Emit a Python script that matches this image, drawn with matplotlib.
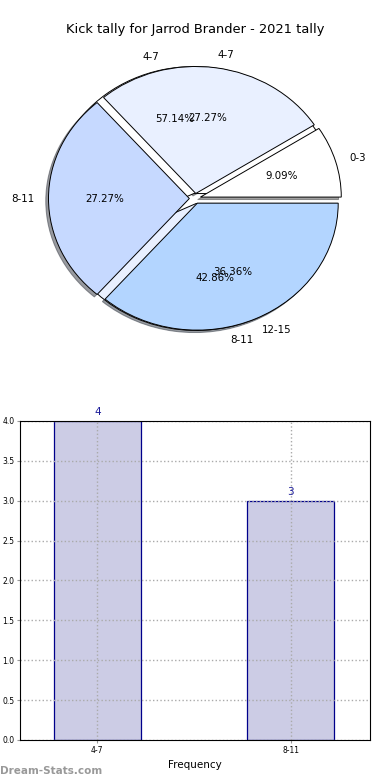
import matplotlib
matplotlib.use("Agg")
import matplotlib.pyplot as plt

# pie 1: all kick ranges
ranges = ["0-3", "4-7", "8-11", "12-15"]
range_counts = [1, 3, 3, 4]
# pie 2 / bars: ranges that were kicked
kick_labels = ["4-7", "8-11"]
kick_counts = [4, 3]

pie_colors = ["#ffffff", "#e9f0ff", "#c6d9ff", "#b3d5ff"]

fig = plt.figure(figsize=(3.9, 7.8), dpi=100)

# pie chart (elliptical, like the original)
ax1 = fig.add_axes([0.0485, 0.542, 0.903, 0.407])
ax1.pie(kick_counts, labels=kick_labels, colors=pie_colors[:2], autopct="%.2f%%",
        explode=[0.04] * 2, startangle=0,
        wedgeprops={"edgecolor": "black", "linewidth": 0.7},
        textprops={"fontsize": 7.4})
ax1.pie(range_counts, labels=ranges, colors=pie_colors, autopct="%.2f%%",
        explode=[0.04] * 4, shadow={"ox": -0.014, "oy": -0.014, "shade": 0.75},
        startangle=0,
        wedgeprops={"edgecolor": "black", "linewidth": 0.7},
        textprops={"fontsize": 7.4})
ax1.set_aspect("auto")
ax1.set_xlim(-1.25, 1.25)
ax1.set_ylim(-1.25, 1.25)
ax1.set_title("Kick tally for Jarrod Brander - 2021 tally", fontsize=9.4, pad=5)

# bar chart
ax2 = fig.add_axes([0.0513, 0.0513, 0.8974, 0.409])
x = list(range(len(kick_labels)))
ax2.bar(x, kick_counts, width=0.45, color="#ccccE5", edgecolor="#00008b", linewidth=0.9)
for xi, v in zip(x, kick_counts):
    ax2.text(xi, v + 0.05, str(v), ha="center", va="bottom", fontsize=7.5, color="#1a1a99")
ax2.set_xlim(-0.4, 1.41)
ax2.set_ylim(0, 4)
ax2.set_yticks([i * 0.5 for i in range(9)])
ax2.set_xticks(x)
ax2.set_xticklabels(kick_labels)
ax2.tick_params(labelsize=5.5, length=2, color="#999999", pad=2)
ax2.grid(True, linestyle=":", color="#aaaaaa", linewidth=1)
ax2.set_xlabel("Frequency", fontsize=7.5, labelpad=4)
for s in ax2.spines.values():
    s.set_linewidth(0.8)

fig.text(0.0, 0.005, "Dream-Stats.com", fontsize=7.5, color="#999999",
         fontweight="bold", ha="left", va="bottom")

fig.savefig("out.png", dpi=100)
